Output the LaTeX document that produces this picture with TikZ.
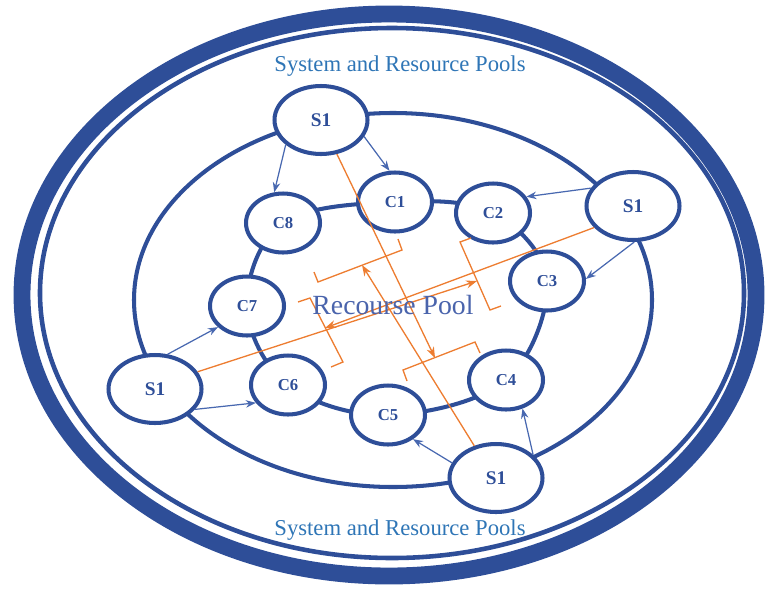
\documentclass[tikz,border=0pt]{standalone}
\usepackage{fontspec}
\setmainfont{Liberation Serif}
\usetikzlibrary{arrows.meta, shapes.geometric, backgrounds}

\definecolor{azulanillo}{RGB}{46,78,152}
\definecolor{azulflecha}{RGB}{72,104,176}
\definecolor{azultitulo}{RGB}{46,117,182}
\definecolor{azulpool}{RGB}{74,100,172}
\definecolor{naranja}{RGB}{237,125,49}

\begin{document}
\begin{tikzpicture}[
		% 1 unidad = 1 px, eje y hacia abajo
		x=0.02cm, y=-0.02cm,
		% Estilos de nodos
		servidor/.style={draw=azulanillo, fill=white, line width=2.3pt, ellipse, minimum width=1.86cm, minimum height=1.36cm, inner sep=0pt, text=azulanillo, font=\fontsize{11}{12}\selectfont\bfseries},
		cliente/.style={draw=azulanillo, fill=white, line width=2.3pt, ellipse, minimum width=1.48cm, minimum height=1.18cm, inner sep=0pt, text=azulanillo, font=\fontsize{9.5}{11}\selectfont\bfseries},
		% Estilo de anillos
		anillo/.style={draw=azulanillo, line width=2.3pt},
		% Estilo de flechas
		enlace/.style={-{Stealth[length=2mm, width=1.5mm]}, draw=azulflecha, line width=0.7pt},
		flujo/.style={-{Stealth[length=2.2mm, width=1.6mm]}, draw=naranja, line width=0.75pt},
		tope/.style={draw=naranja, line width=0.75pt},
		titulo/.style={text=azultitulo, font=\fontsize{12.9}{15}\selectfont}
		]
		
		\useasboundingbox (0,0) rectangle (766,592);
		
		% --- ANILLOS EXTERIORES ---
		\draw[draw=azulanillo, line width=9.6pt] (389,295) ellipse [x radius=367, y radius=281];
		\draw[draw=azulanillo, line width=2.6pt] (392,293) ellipse [x radius=352, y radius=265];
		\draw[anillo] (393,300) ellipse [x radius=259, y radius=187];
		
		\node[titulo] (tit_sup) at (400,66) {System and Resource Pools};
		\node[titulo] (tit_inf) at (400,530) {System and Resource Pools};
		
		% --- SERVIDORES (ANILLO MEDIO) ---
		\node[servidor] (sT) at (321,120) {S1};
		\node[servidor] (sR) at (633,206) {S1};
		\node[servidor] (sL) at (155,389) {S1};
		\node[servidor] (sB) at (496,478) {S1};
		
		% --- CLIENTES (ANILLO INTERIOR) ---
		\node[cliente] (c1) at (395,202) {C1};
		\node[cliente] (c2) at (493,213) {C2};
		\node[cliente] (c3) at (547,281) {C3};
		\node[cliente] (c4) at (506,380) {C4};
		\node[cliente] (c5) at (388,415) {C5};
		\node[cliente] (c6) at (288,385) {C6};
		\node[cliente] (c7) at (247,306) {C7};
		\node[cliente] (c8) at (283,223) {C8};
		
		\begin{scope}[on background layer]
			\draw[anillo] plot[smooth cycle, tension=0.6] coordinates {(c1) (c2) (c3) (c4) (c5) (c6) (c7) (c8)};
		\end{scope}
		
		% --- ENLACES SERVIDOR -> CLIENTE ---
		\draw[enlace] (sT.215) -- (c8.106);
		\draw[enlace] (sT.339) -- (c1.100);
		\draw[enlace] (sR.157) -- (c2.26);
		\draw[enlace] (sR.272) -- (c3.3);
		\draw[enlace] (sL.70) -- (c7.216);
		\draw[enlace] (sL.333) -- (c6.209);
		\draw[enlace] (sB.161) -- (c5.316);
		\draw[enlace] (sB.32) -- (c4.300);
		
		% --- FLUJOS CRUZADOS Y TOPES ---
		\coordinate (hitT) at (362,265);
		\coordinate (hitB) at (435,358);
		\coordinate (hitR) at (477,281);
		\coordinate (hitL) at (325,328);
		
		\draw[flujo] (sT.295) -- (hitB);
		\draw[flujo] (sB.124) -- (hitT);
		\draw[flujo] (sL.22) -- (hitR);
		\draw[flujo] (sR.209) -- (hitL);
		
		\draw[tope] (398,239) -- (402,250) -- (318,282) -- (314,272);
		\draw[tope] (407,381) -- (403,370) -- (475,342) -- (480,353);
		\draw[tope] (471,238) -- (460,242) -- (490,310) -- (501,306);
		\draw[tope] (298,302) -- (310,298) -- (343,362) -- (331,367);
		
		\node[text=azulpool, font=\fontsize{15.8}{18}\selectfont] (pool) at (393,305) {Recourse Pool};
		
	\end{tikzpicture}
\end{document}
